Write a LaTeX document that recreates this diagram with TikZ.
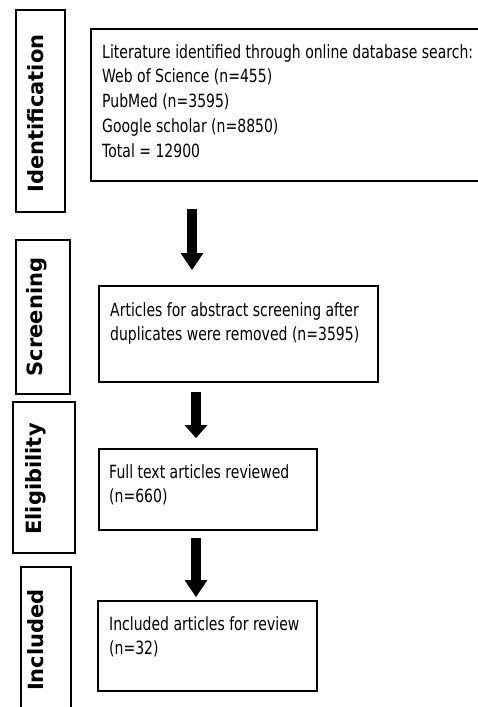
\documentclass[tikz,border=0pt]{standalone}
\usepackage{fontspec}
\setmainfont{DejaVu Sans}
\newfontfamily\mainfnt[FakeStretch=0.77]{DejaVu Sans}
\newfontfamily\sidefnt{DejaVu Sans Bold}
\usetikzlibrary{arrows.meta,calc}
\begin{document}
\begin{tikzpicture}[x=1pt,y=-1pt,
  frame/.style={draw=black, line width=1.3pt, rectangle, inner sep=0pt, outer sep=0pt, anchor=north west},
  txt/.style={anchor=north west, inner sep=0pt, align=left,
    font=\mainfnt\fontsize{18.2}{24.8}\selectfont,
    execute at begin node={\rule{0pt}{14pt}}},
  side/.style={rotate=90, anchor=base, inner sep=0pt, font=\sidefnt\fontsize{21}{25}\selectfont},
  flow/.style={line width=9.5pt, -{Triangle[length=#1,width=23pt,line width=0pt]}},
  flow/.default=17pt
]
\useasboundingbox (0,0) rectangle (477,707);
\fill[white] (0,0) rectangle (477,707);

% side labels
\node[frame, minimum width=49pt, minimum height=202pt] (s1) at (16,10) {};
\node[frame, minimum width=54pt, minimum height=154pt] (s2) at (16,240) {};
\node[frame, minimum width=62pt, minimum height=151pt] (s3) at (13,402) {};
\node[frame, minimum width=50pt, minimum height=160pt] (s4) at (21,567) {};
\node[side] (l1) at (43,113.5) {Identification};
\node[side] (l2) at (42,317) {Screening};
\node[side] (l3) at (41,479) {Eligibility};
\node[side] (l4) at (43,640) {Included};

% main boxes
\node[frame, minimum width=394pt, minimum height=152pt] (b1) at (91,29) {};
\node[frame, minimum width=279pt, minimum height=96pt] (b2) at (99,286) {};
\node[frame, minimum width=218pt, minimum height=81pt] (b3) at (99,449) {};
\node[frame, minimum width=219pt, minimum height=90pt] (b4) at (98,601) {};

\node[txt] (t1) at (102,44) {Literature identified through online database search:\\Web of Science (n=455)\\PubMed (n=3595)\\Google scholar (n=8850)\\Total = 12900};
\node[txt] (t2) at (110,302) {Articles for abstract screening after\\duplicates were removed (n=3595)};
\node[txt] (t3) at (109,464) {Full text articles reviewed\\(n=660)};
\node[txt] (t4) at (109,616) {Included articles for review\\(n=32)};

% arrows
\coordinate (a1s) at (192,209);
\coordinate (a1e) at (192,270);
\coordinate (a2s) at (196,392);
\coordinate (a2e) at (196,438);
\coordinate (a3s) at (196,538);
\coordinate (a3e) at (196,597);
\draw[flow] (a1s) -- (a1e);
\draw[flow=13pt] (a2s) -- (a2e);
\draw[flow] (a3s) -- (a3e);
\end{tikzpicture}
\end{document}
